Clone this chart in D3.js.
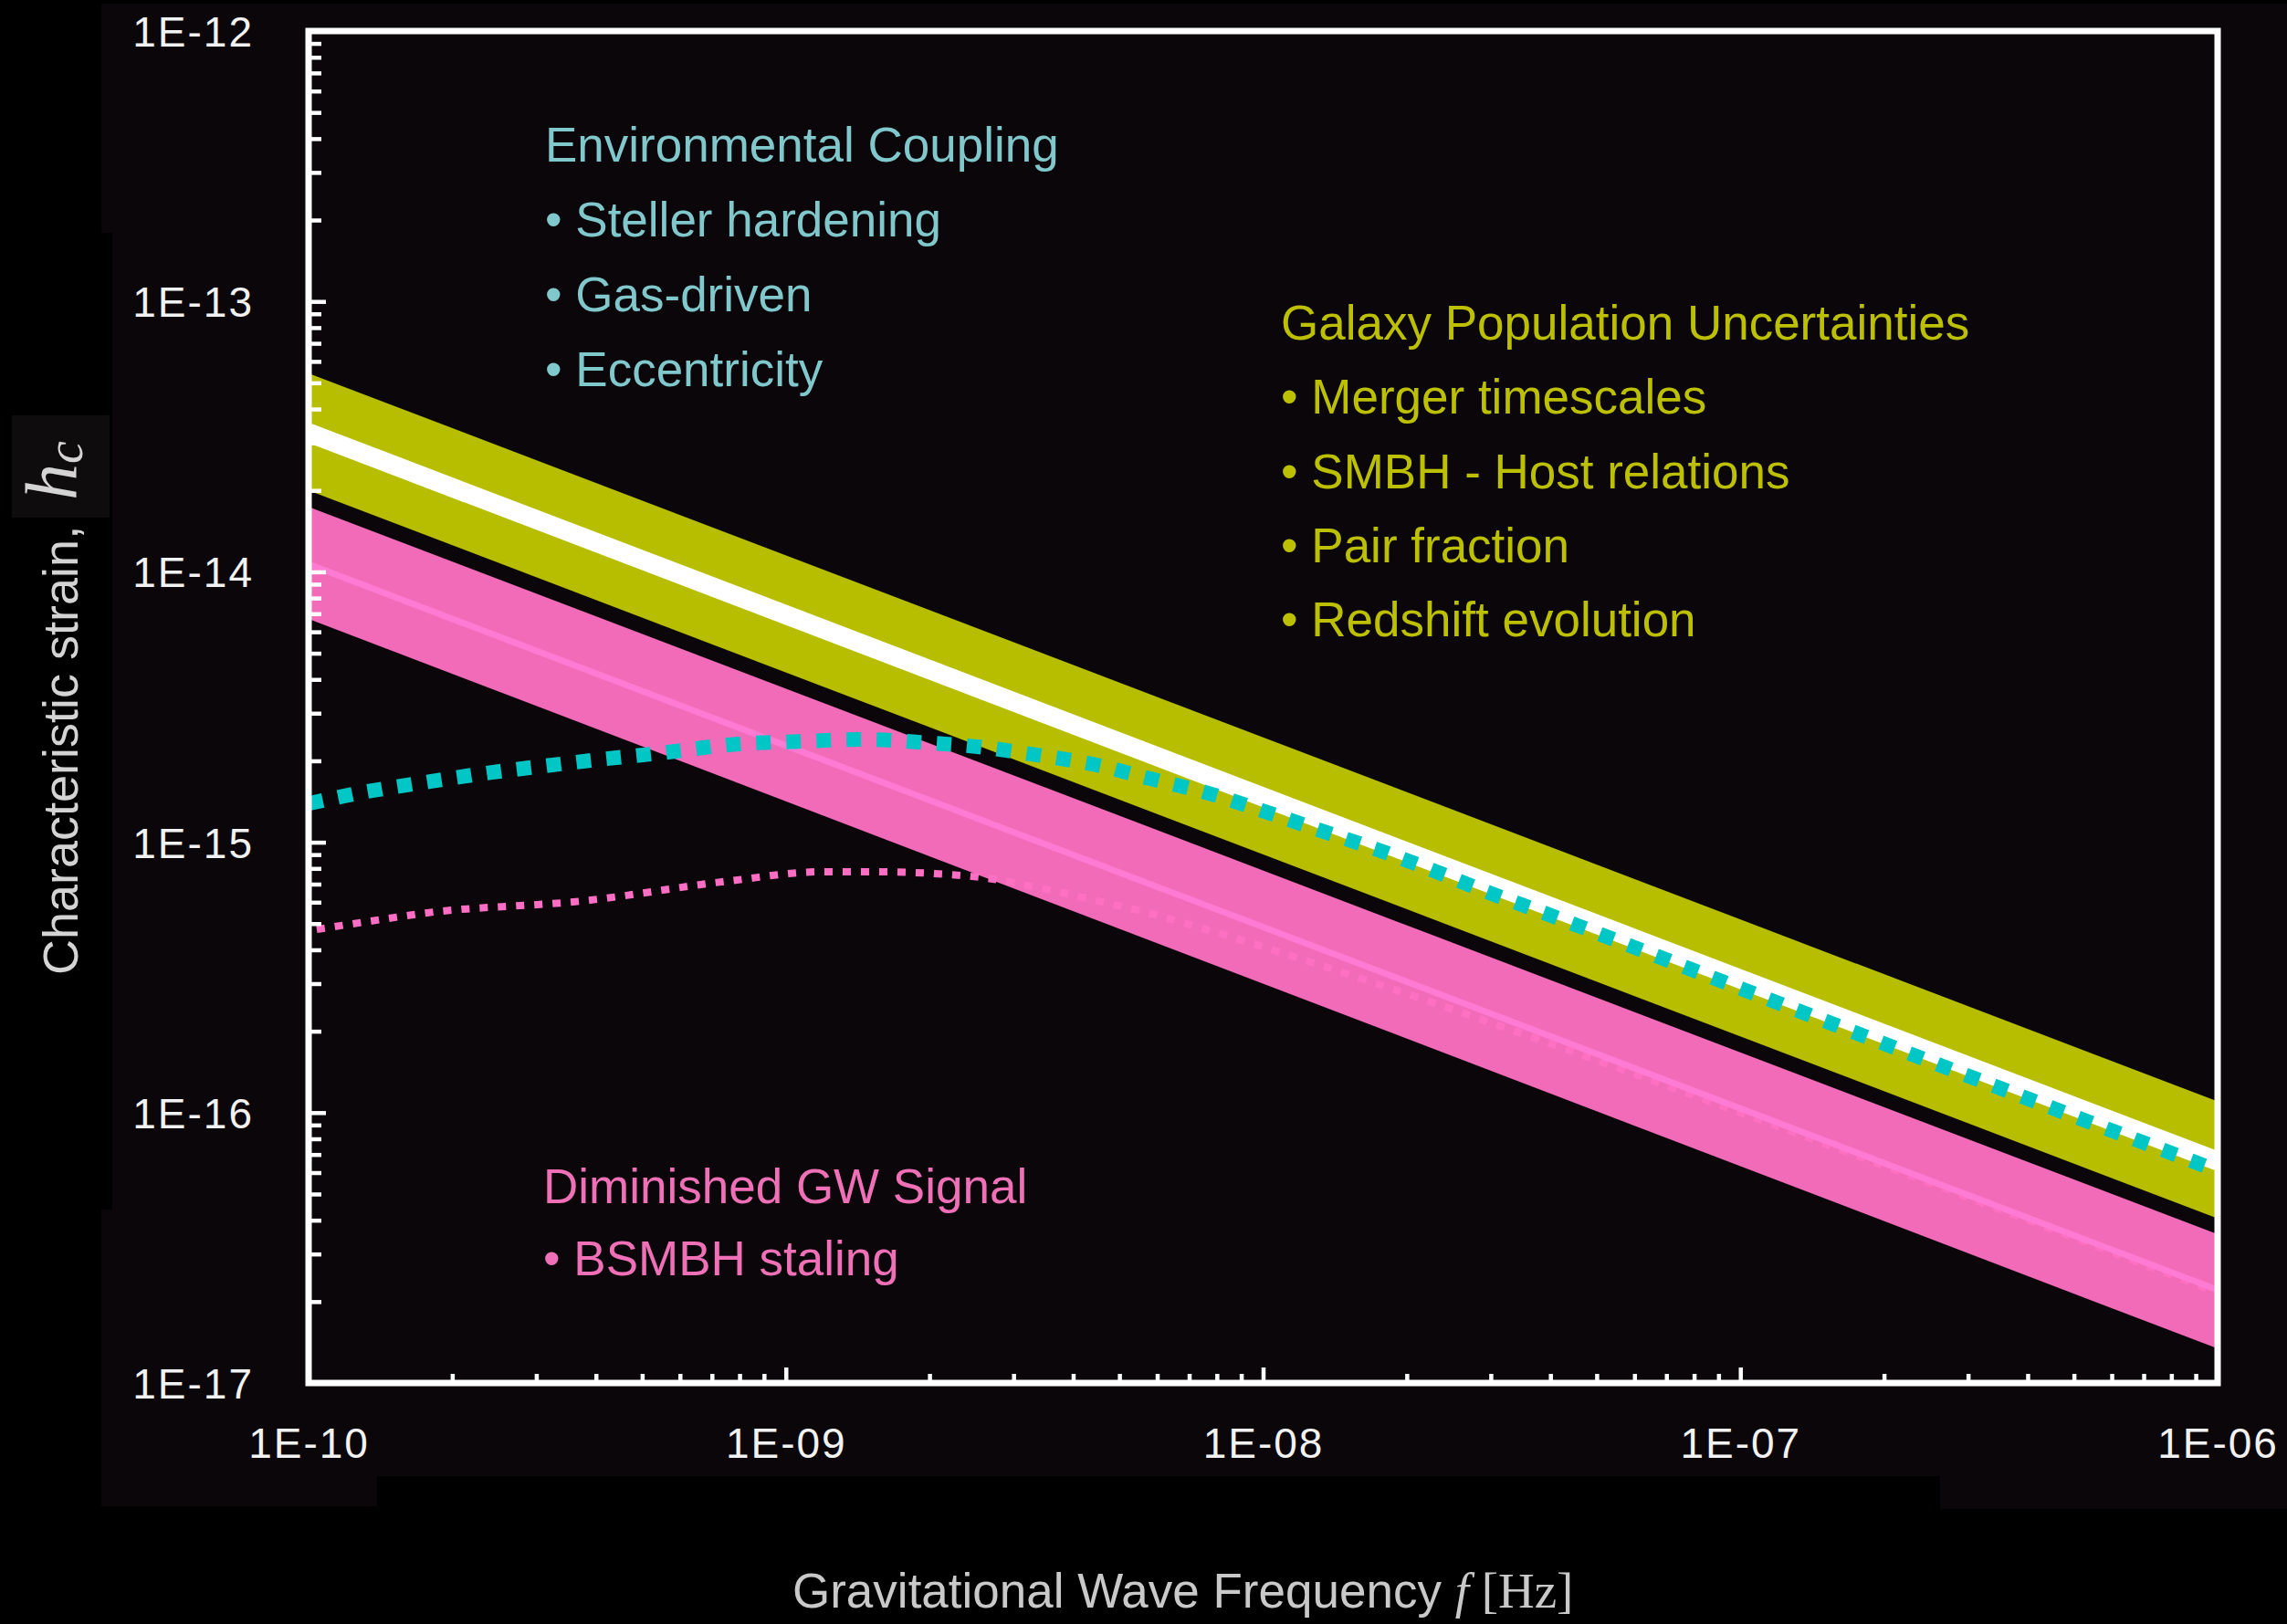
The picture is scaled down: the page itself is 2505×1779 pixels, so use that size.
<!DOCTYPE html>
<html>
<head>
<meta charset="utf-8">
<script src="https://cdn.jsdelivr.net/npm/d3@7"></script>
<style>
  html, body { margin: 0; padding: 0; background: #000; }
  svg { display: block; }
</style>
</head>
<body>
<svg id="chart" width="2505" height="1779"></svg>
<script>
// ---- data -------------------------------------------------------------
// Frequencies [Hz] at the two ends of the power-law bands
const bandFreqs = [1e-10, 1e-6];

// Galaxy-population uncertainty band (olive) and its median (white)
const galaxyUpper  = [5.42e-14, 1.10e-16];
const galaxyLower  = [2.00e-14, 4.06e-17];
const galaxyMedian = [3.27e-14, 6.61e-17];

// Diminished-signal band (pink) and its median
const diminishedUpper  = [1.74e-14, 3.55e-17];
const diminishedLower  = [6.70e-15, 1.34e-17];
const diminishedMedian = [1.067e-14, 2.21e-17];

// Environmental-coupling spectrum (cyan dotted): frequency, strain
const envFreq = [1.0e-10, 1.3e-10, 1.73e-10, 2.3e-10, 3.08e-10, 4.04e-10, 5.38e-10, 8.0e-10,
                 1.07e-9, 1.46e-9, 1.93e-9, 2.55e-9, 3.37e-9, 4.48e-9, 5.86e-9, 7.76e-9,
                 1.02e-8, 1.33e-8, 1.72e-8, 2.23e-8, 2.88e-8, 3.74e-8, 1.0e-7, 3.16e-7, 1.0e-6];
const envStrain = [1.39e-15, 1.53e-15, 1.66e-15, 1.79e-15, 1.91e-15, 2.02e-15, 2.13e-15, 2.31e-15,
                   2.36e-15, 2.40e-15, 2.34e-15, 2.25e-15, 2.10e-15, 1.93e-15, 1.71e-15, 1.51e-15,
                   1.29e-15, 1.10e-15, 9.44e-16, 7.96e-16, 6.65e-16, 5.61e-16, 2.88e-16, 1.32e-16, 6.10e-17];

// Stalled-binary spectrum (pink dotted): frequency, strain
const stallFreq = [1.04e-10, 1.34e-10, 1.77e-10, 3.77e-10, 7.62e-10, 1.19e-9, 1.56e-9, 2.03e-9,
                   2.64e-9, 3.35e-9, 4.19e-9, 5.73e-9, 8.04e-9, 1.12e-8, 1.58e-8, 2.24e-8, 1.0e-7, 1.0e-6];
const stallStrain = [4.76e-16, 5.10e-16, 5.48e-16, 6.07e-16, 7.19e-16, 7.78e-16, 7.78e-16, 7.66e-16,
                     7.36e-16, 6.81e-16, 6.25e-16, 5.48e-16, 4.62e-16, 3.85e-16, 3.16e-16, 2.57e-16, 1.0e-16, 2.16e-17];

// Axis ticks and labels
const xTickValues = [1e-10, 1e-9, 1e-8, 1e-7, 1e-6];
const xTickLabels = ["1E-10", "1E-09", "1E-08", "1E-07", "1E-06"];
const yTickValues = [1e-12, 1e-13, 1e-14, 1e-15, 1e-16, 1e-17];
const yTickLabels = ["1E-12", "1E-13", "1E-14", "1E-15", "1E-16", "1E-17"];

// Annotation text
const envNotes    = ["Environmental Coupling", "\u2022 Steller hardening", "\u2022 Gas-driven", "\u2022 Eccentricity"];
const galaxyNotes = ["Galaxy Population Uncertainties", "\u2022 Merger timescales", "\u2022 SMBH - Host relations",
                     "\u2022 Pair fraction", "\u2022 Redshift evolution"];
const stallNotes  = ["Diminished GW Signal", "\u2022 BSMBH staling"];

// ---- layout -----------------------------------------------------------
const W = 2505, H = 1779;
const plot = { left: 338, right: 2429, top: 34, bottom: 1515 };
const sansFont = "'Liberation Sans', Arial, Helvetica, sans-serif";
const serifFont = "'Liberation Serif', 'Times New Roman', serif";

const svg = d3.select("#chart");

// backdrop
svg.append("rect").attr("width", W).attr("height", H).attr("fill", "#000");
svg.append("path")
  .attr("d", "M111,4 H2505 V1653 H2125 V1617 H413 V1650 H111 V1325 H123 V255 H111 Z")
  .attr("fill", "#0a0609");
svg.append("rect").attr("x", 13).attr("y", 455).attr("width", 107).attr("height", 112)
  .attr("fill", "#0e0c0d");

const x = d3.scaleLog().domain([1e-10, 1e-6]).range([plot.left, plot.right]);
const y = d3.scaleLog().domain([1e-17, 1e-12]).range([plot.bottom, plot.top]);

svg.append("clipPath").attr("id", "plot-clip")
  .append("rect")
  .attr("x", plot.left).attr("y", plot.top)
  .attr("width", plot.right - plot.left).attr("height", plot.bottom - plot.top);

const g = svg.append("g").attr("clip-path", "url(#plot-clip)");

const bandRows = (lo, hi) => bandFreqs.map((f, i) => ({ f, lo: lo[i], hi: hi[i] }));
const pairs = (fs, hs) => fs.map((f, i) => [f, hs[i]]);

const area = d3.area().x(d => x(d.f)).y0(d => y(d.lo)).y1(d => y(d.hi));
const straight = d3.line().x(d => x(d[0])).y(d => y(d[1]));
const smooth = d3.line().x(d => x(d[0])).y(d => y(d[1])).curve(d3.curveMonotoneX);

// olive band + white median
g.append("path").datum(bandRows(galaxyLower, galaxyUpper))
  .attr("d", area).attr("fill", "#b7be00");
g.append("path").datum(pairs(bandFreqs, galaxyMedian))
  .attr("d", straight).attr("fill", "none").attr("stroke", "#ffffff").attr("stroke-width", 21);

// pink dotted spectrum, faintly seen through the pink band
g.append("path").datum(pairs(stallFreq, stallStrain))
  .attr("d", smooth).attr("fill", "none")
  .attr("stroke", "#ff6ec4").attr("stroke-width", 8).attr("stroke-dasharray", "9 11");

g.append("path").datum(bandRows(diminishedLower, diminishedUpper))
  .attr("d", area).attr("fill", "#fe71c2").attr("fill-opacity", 0.95);
g.append("path").datum(pairs(bandFreqs, diminishedMedian))
  .attr("d", straight).attr("fill", "none").attr("stroke", "#ff7ad2").attr("stroke-width", 7);

// cyan dotted spectrum
g.append("path").datum(pairs(envFreq, envStrain))
  .attr("d", smooth).attr("fill", "none")
  .attr("stroke", "#00c6c6").attr("stroke-width", 16).attr("stroke-dasharray", "16 17");

// ---- axes -------------------------------------------------------------
function minorTicks(lo, hi) {
  const out = [];
  for (let e = lo; e < hi; e++) for (let m = 2; m <= 9; m++) out.push(m * Math.pow(10, e));
  return out;
}

const tickStyle = sel => {
  sel.select(".domain").remove();
  sel.selectAll(".tick line").attr("stroke", "#fff").attr("stroke-width", 4.5);
};

svg.append("g").attr("transform", `translate(${plot.left},0)`)
  .call(d3.axisLeft(y).tickValues(minorTicks(-17, -12)).tickSize(-14).tickFormat(""))
  .call(tickStyle);
svg.append("g").attr("transform", `translate(${plot.left},0)`)
  .call(d3.axisLeft(y).tickValues(yTickValues).tickSize(-19).tickFormat(""))
  .call(tickStyle);
svg.append("g").attr("transform", `translate(0,${plot.bottom})`)
  .call(d3.axisBottom(x).tickValues(minorTicks(-10, -6)).tickSize(-10).tickFormat(""))
  .call(tickStyle);
svg.append("g").attr("transform", `translate(0,${plot.bottom})`)
  .call(d3.axisBottom(x).tickValues(xTickValues).tickSize(-17).tickFormat(""))
  .call(tickStyle);

// tick labels
const yLab = svg.append("g").attr("transform", `translate(${plot.left},0)`)
  .call(d3.axisLeft(y).tickValues(yTickValues).tickSize(0).tickPadding(60)
        .tickFormat((d, i) => yTickLabels[i]));
yLab.select(".domain").remove();
yLab.selectAll("text").attr("fill", "#f2f2f2").attr("font-family", sansFont)
  .attr("font-size", 46).attr("letter-spacing", 2).attr("dy", "0.36em");

const xLab = svg.append("g").attr("transform", `translate(0,${plot.bottom})`)
  .call(d3.axisBottom(x).tickValues(xTickValues).tickSize(0).tickPadding(49)
        .tickFormat((d, i) => xTickLabels[i]));
xLab.select(".domain").remove();
xLab.selectAll("text").attr("fill", "#f2f2f2").attr("font-family", sansFont)
  .attr("font-size", 46).attr("letter-spacing", 2);

// frame
svg.append("rect")
  .attr("x", plot.left).attr("y", plot.top)
  .attr("width", plot.right - plot.left).attr("height", plot.bottom - plot.top)
  .attr("fill", "none").attr("stroke", "#fff").attr("stroke-width", 7);

// ---- axis titles ------------------------------------------------------
const xTitle = svg.append("text").attr("x", 868).attr("y", 1761).attr("fill", "#c9c9c9");
xTitle.append("tspan").attr("font-family", sansFont).attr("font-size", 53)
  .text("Gravitational Wave Frequency ");
xTitle.append("tspan").attr("font-family", serifFont).attr("font-style", "italic").attr("font-size", 55)
  .text("f");
xTitle.append("tspan").attr("font-family", serifFont).attr("font-size", 55)
  .text(" [Hz]");

const yTitle = svg.append("g").attr("transform", "rotate(-90)");
yTitle.append("text").attr("x", -1068).attr("y", 85)
  .attr("fill", "#d4d4d4").attr("font-family", sansFont).attr("font-size", 54)
  .text("Characteristic strain,");
yTitle.append("text").attr("x", -548).attr("y", 83)
  .attr("fill", "#d4d4d4").attr("font-family", serifFont).attr("font-style", "italic").attr("font-size", 80)
  .text("h");
yTitle.append("text").attr("x", -508).attr("y", 90)
  .attr("fill", "#d4d4d4").attr("font-family", serifFont).attr("font-style", "italic").attr("font-size", 56)
  .text("c");

// ---- annotations ------------------------------------------------------
function notes(lines, x0, y0, step, color) {
  svg.append("g").selectAll("text").data(lines).join("text")
    .attr("x", x0).attr("y", (d, i) => y0 + i * step)
    .attr("fill", color).attr("font-family", sansFont).attr("font-size", 53)
    .text(d => d);
}
notes(envNotes, 597, 177, 82, "#80c8cc");
notes(galaxyNotes, 1403, 372, 81.3, "#bcc000");
notes(stallNotes, 595, 1318, 79, "#f070b8");
</script>
</body>
</html>
